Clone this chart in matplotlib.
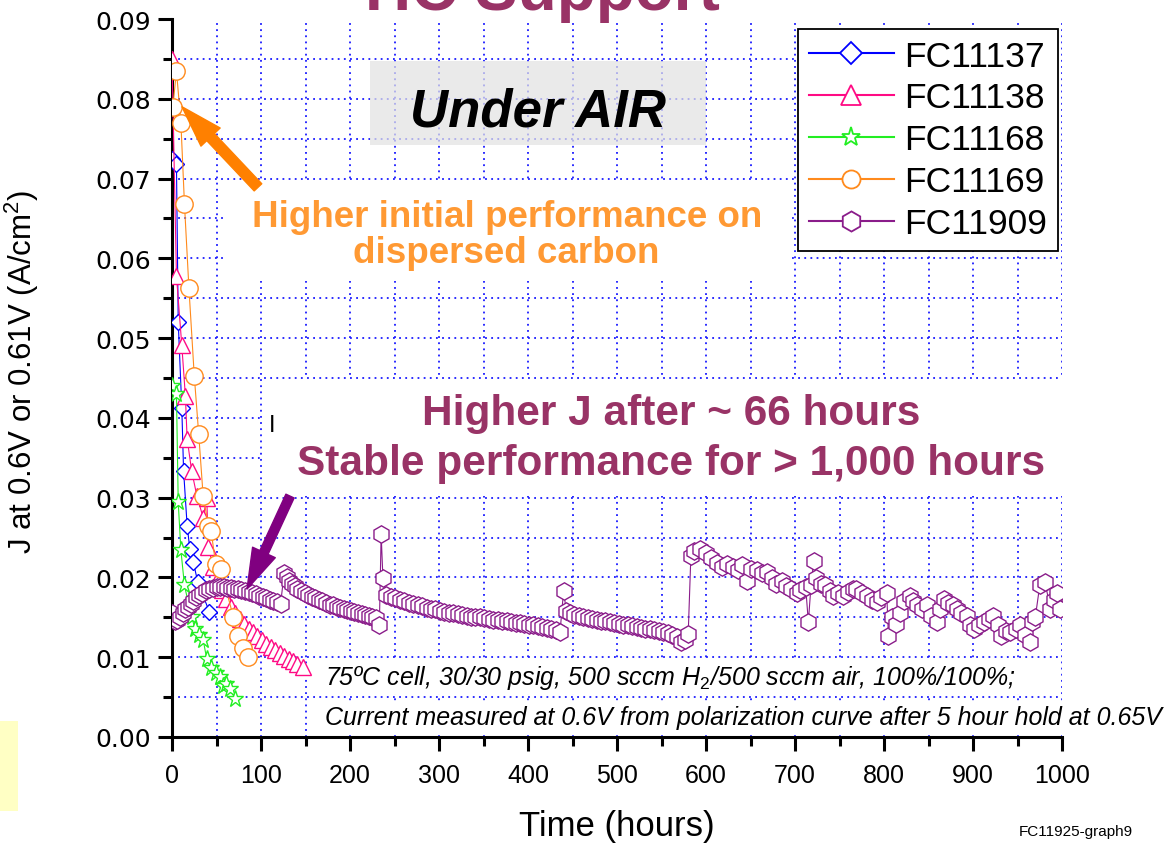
import matplotlib
matplotlib.use("Agg")
import matplotlib.pyplot as plt
from matplotlib.patches import Rectangle
from matplotlib.lines import Line2D
from matplotlib.ticker import MultipleLocator

NARROW = ["Liberation Sans Narrow", "Liberation Sans", "DejaVu Sans"]
SANS = ["Liberation Sans", "DejaVu Sans"]

plt.rcParams["font.family"] = SANS
plt.rcParams["mathtext.fontset"] = "custom"
plt.rcParams["mathtext.rm"] = "Liberation Sans"
plt.rcParams["mathtext.it"] = "Liberation Sans:italic"

# ---------------- data: current density J (A/cm2) vs time (hours) ----------------
fc11137_hours = [0.5, 5, 7, 11, 13, 17, 20, 24, 29, 42]
fc11137_j = [0.0725, 0.0718, 0.0520, 0.0413, 0.0334, 0.0265, 0.0236, 0.0219, 0.0194, 0.0157]

fc11138_hours = [0, 5, 11, 15, 17, 22, 28, 35, 39, 41, 46, 51, 56, 61, 66, 71, 76, 81,
                 86, 91, 96, 101, 106, 111, 116, 121, 126, 131, 136, 141, 147]
fc11138_j = [0.0850, 0.0578, 0.0491, 0.0428, 0.0374, 0.0334, 0.0302, 0.0275, 0.0300,
             0.0238, 0.0213, 0.0197, 0.0184, 0.0173, 0.0163, 0.0155, 0.0148, 0.0142,
             0.0136, 0.0131, 0.0126, 0.0122, 0.0117, 0.0113, 0.0109, 0.0105, 0.0101,
             0.0098, 0.0095, 0.0092, 0.0088]

fc11168_hours = [0, 5, 7, 10, 14, 22, 26, 30, 35, 39, 44, 49, 54, 57, 61, 65, 71]
fc11168_j = [0.0440, 0.0430, 0.0294, 0.0234, 0.0190, 0.0150, 0.0136, 0.0128, 0.0122,
             0.0098, 0.0086, 0.0080, 0.0075, 0.0064, 0.0066, 0.0060, 0.0048]

fc11169_hours = [1, 5, 10, 14, 19, 25, 30, 35, 41, 44, 49, 55, 69, 74, 80, 85]
fc11169_j = [0.0790, 0.0835, 0.0770, 0.0668, 0.0563, 0.0453, 0.0380, 0.0302, 0.0265,
             0.0258, 0.0217, 0.0210, 0.0150, 0.0126, 0.0111, 0.0100]

fc11909_hours = [
    0, 3, 6, 9, 12, 15, 18, 21, 24, 27, 30, 34, 38, 42, 46, 50, 54, 58, 62, 66,
    70, 74, 78, 82, 86, 90, 94, 98, 102, 106, 110, 114, 118, 122,
    126, 129, 132, 135, 138, 141, 145, 149, 153, 157, 161, 165, 169, 173, 177, 181,
    185, 189, 193, 197, 201, 205, 209, 213, 217, 221, 225, 229, 233,
    235, 237,
    241, 246, 251, 256, 261, 266, 271, 276, 281, 286, 291, 296, 301, 306, 311, 316,
    321, 326, 331, 336, 341, 346, 351, 356, 361, 366, 371, 376, 381, 386, 391, 396,
    401, 406, 411, 416, 421, 426, 431, 436,
    440, 443,
    447, 452, 457, 462, 467, 472, 477, 482, 487, 492, 497, 502, 507, 512, 517, 522,
    527, 532, 537, 542, 547, 552, 557, 562, 567, 572, 576, 580,
    583, 587, 593, 600, 606, 612, 618, 624, 630, 636, 641, 646, 651, 657, 663, 668,
    674, 679, 685, 690, 696, 702, 706, 712, 715, 718, 721, 724, 729, 734, 739, 743,
    748, 754, 760, 765, 769, 775, 781, 787, 792, 797, 803, 805, 809, 814, 818, 823,
    829, 833, 837, 843, 848, 853, 859, 863, 867, 872, 877, 882, 887, 893, 897, 901,
    907, 912, 918, 923, 928, 932, 937, 942, 948, 953, 958, 964, 966, 970, 975, 981,
    987, 991, 994, 998,
]
fc11909_j = [
    0.0156, 0.0145, 0.0147, 0.0151, 0.0156, 0.0160, 0.0163, 0.0167, 0.0171, 0.0175,
    0.0178, 0.0181, 0.0184, 0.0186, 0.0187, 0.0188, 0.0188, 0.0188, 0.0187, 0.0187,
    0.0186, 0.0185, 0.0184, 0.0183, 0.0182, 0.0180, 0.0179, 0.0177, 0.0176, 0.0174,
    0.0172, 0.0171, 0.0169, 0.0167,
    0.0205, 0.0200, 0.0196, 0.0192, 0.0189, 0.0186, 0.0183, 0.0180, 0.0178, 0.0176,
    0.0174, 0.0172, 0.0170, 0.0168, 0.0166, 0.0165, 0.0163, 0.0162, 0.0160, 0.0159,
    0.0158, 0.0157, 0.0155, 0.0154, 0.0153, 0.0152, 0.0151, 0.0149, 0.0141,
    0.0254, 0.0199,
    0.0178, 0.0176, 0.0174, 0.0172, 0.0170, 0.0168, 0.0167, 0.0165, 0.0164, 0.0162,
    0.0161, 0.0160, 0.0158, 0.0157, 0.0156, 0.0155, 0.0154, 0.0153, 0.0152, 0.0151,
    0.0150, 0.0150, 0.0149, 0.0148, 0.0147, 0.0147, 0.0146, 0.0145, 0.0144, 0.0143,
    0.0143, 0.0142, 0.0141, 0.0140, 0.0139, 0.0138, 0.0137, 0.0136, 0.0134, 0.0132,
    0.0183, 0.0158,
    0.0155, 0.0153, 0.0152, 0.0150, 0.0149, 0.0148, 0.0147, 0.0146, 0.0145, 0.0144,
    0.0143, 0.0142, 0.0141, 0.0140, 0.0139, 0.0138, 0.0137, 0.0136, 0.0135, 0.0134,
    0.0133, 0.0132, 0.0130, 0.0128, 0.0125, 0.0119, 0.0122, 0.0129,
    0.0227, 0.0233, 0.0236, 0.0231, 0.0225, 0.0218, 0.0213, 0.0217, 0.0213, 0.0209,
    0.0215, 0.0195, 0.0210, 0.0209, 0.0205, 0.0207, 0.0199, 0.0192, 0.0196, 0.0189,
    0.0186, 0.0181, 0.0184, 0.0188, 0.0144, 0.0190, 0.0221, 0.0199, 0.0192, 0.0190,
    0.0183, 0.0177, 0.0180, 0.0177, 0.0182, 0.0185, 0.0186, 0.0180, 0.0177, 0.0172,
    0.0169, 0.0176, 0.0181, 0.0127, 0.0150, 0.0142, 0.0156, 0.0170, 0.0177, 0.0170,
    0.0165, 0.0161, 0.0165, 0.0152, 0.0144, 0.0160, 0.0173, 0.0168, 0.0165, 0.0160,
    0.0156, 0.0152, 0.0140, 0.0135, 0.0141, 0.0144, 0.0148, 0.0152, 0.0140, 0.0127,
    0.0133, 0.0131, 0.0136, 0.0140, 0.0128, 0.0119, 0.0144, 0.0150, 0.0190, 0.0194,
    0.0160, 0.0172, 0.0181, 0.0160,
]

series_labels = ["FC11137", "FC11138", "FC11168", "FC11169", "FC11909"]
x_ticks = [0, 100, 200, 300, 400, 500, 600, 700, 800, 900, 1000]
y_ticks = [0.00, 0.01, 0.02, 0.03, 0.04, 0.05, 0.06, 0.07, 0.08, 0.09]

# ---------------- styling ----------------
styles = [
    dict(color="#0000ff", marker="D", ms=8.0, legend_ms=11.5),
    dict(color="#ff0a84", marker="^", ms=12.0, legend_ms=14.5),
    dict(color="#22ee22", marker="*", ms=12.5, legend_ms=14.0),
    dict(color="#ff8a1c", marker="o", ms=12.5, legend_ms=13.0),
    dict(color="#8a1c8a", marker="h", ms=12.5, legend_ms=14.5),
]
data = [
    (fc11137_hours, fc11137_j),
    (fc11138_hours, fc11138_j),
    (fc11168_hours, fc11168_j),
    (fc11169_hours, fc11169_j),
    (fc11909_hours, fc11909_j),
]

W, H = 1170, 845
fig = plt.figure(figsize=(W / 100, H / 100), dpi=100)
fig.patch.set_facecolor("white")
ax = fig.add_axes([172 / W, 107 / H, 890 / W, 718 / H])
ax.set_xlim(0, 1000)
ax.set_ylim(0, 0.09)

# axes frame: only left and bottom spines
for side in ("top", "right"):
    ax.spines[side].set_visible(False)
for side in ("left", "bottom"):
    ax.spines[side].set_linewidth(2.2)
    ax.spines[side].set_color("black")

ax.set_xticks(x_ticks)
ax.set_yticks(y_ticks)
ax.xaxis.set_minor_locator(MultipleLocator(50))
ax.yaxis.set_minor_locator(MultipleLocator(0.005))
ax.set_xticklabels([str(t) for t in x_ticks], fontfamily=NARROW, fontsize=18)
ax.set_yticklabels([f"{t:.2f}" for t in y_ticks], fontfamily=["DejaVu Sans"], fontsize=18)
ax.tick_params(which="major", direction="out", length=10, width=2.2, color="black")
ax.tick_params(which="minor", direction="out", length=6.5, width=2.2, color="black")
ax.tick_params(axis="x", which="major", pad=9)
ax.tick_params(axis="y", which="major", pad=5)

# dotted blue grid behind everything
ax.set_axisbelow(True)
ax.grid(which="both", color="#1a1aff", linestyle=(0, (1, 2.4)), linewidth=1.3)
ax.yaxis.get_major_ticks()[-1].gridline.set_visible(False)

ax.set_xlabel("Time (hours)", fontfamily=SANS, fontsize=25)
ax.xaxis.set_label_coords(0.5, -0.1)
ax.set_ylabel("J at 0.6V or 0.61V (A/cm$^2$)", fontfamily=NARROW, fontsize=22.5)
ax.yaxis.set_label_coords(-0.147, 0.51)

# white panels behind the callouts and the grey panel behind the condition label
ax.add_patch(Rectangle((60, 0.0572), 634, 0.0124, facecolor="white", edgecolor="none", zorder=1))
ax.add_patch(Rectangle((101, 0.0302), 899, 0.0147, facecolor="white", edgecolor="none", zorder=1))
ax.add_patch(Rectangle((222.5, 0.0742), 377.5, 0.0105, facecolor="#e2e2e2", alpha=0.72,
                       edgecolor="none", zorder=1))

# data series
for (hrs, jv), lab, st in zip(data, series_labels, styles):
    ax.plot(hrs, jv, color=st["color"], lw=0.8, marker=st["marker"], ms=st["ms"],
            mfc="white", mec=st["color"], mew=1.0, label=lab, zorder=3, clip_on=True)

# legend
handles = [Line2D([], [], color=st["color"], lw=1.5, marker=st["marker"], ms=st["legend_ms"],
                  mfc="white", mec=st["color"], mew=1.3) for st in styles]
leg = ax.legend(handles, series_labels, loc="upper right",
                bbox_to_anchor=(1058 / W, 1 - 30 / H), bbox_transform=fig.transFigure,
                prop={"family": SANS, "size": 25.5}, frameon=True, fancybox=False,
                framealpha=1, edgecolor="black", borderpad=0.3, labelspacing=0.25,
                handlelength=2.4, handletextpad=0.3, borderaxespad=0)
leg.get_frame().set_linewidth(1.3)
leg.set_zorder(6)

# callout texts
ax.text(411, 0.0784, "Under AIR", fontsize=38, fontweight="bold", fontstyle="italic",
        ha="center", va="center", color="black", zorder=4)
ax.text(376, 0.0652, "Higher initial performance on", fontsize=26.5, fontweight="bold",
        color="#ff9933", ha="center", va="center", zorder=4)
ax.text(376, 0.0607, "dispersed carbon", fontsize=26.5, fontweight="bold",
        color="#ff9933", ha="center", va="center", zorder=4)
ax.text(561, 0.0406, "Higher J after ~ 66 hours", fontsize=30.5, fontweight="bold",
        color="#993366", ha="center", va="center", zorder=4)
ax.text(561, 0.0343, "Stable performance for > 1,000 hours", fontsize=30.5, fontweight="bold",
        color="#993366", ha="center", va="center", zorder=4)

box = dict(facecolor="white", edgecolor="none", pad=2)
ax.text(172, 0.0075, "75ºC cell, 30/30 psig, 500 sccm H$_2$/500 sccm air, 100%/100%;",
        fontsize=18, fontstyle="italic", ha="left", va="center", bbox=box, zorder=4)
ax.text(172, 0.0025, "Current measured at 0.6V from polarization curve after 5 hour hold at 0.65V",
        fontsize=18, fontstyle="italic", ha="left", va="center", bbox=box, zorder=4)

# arrows
ax.annotate("", xy=(11.2, 0.0790), xytext=(96.6, 0.0689),
            arrowprops=dict(arrowstyle="simple,head_width=1.9,head_length=3.0,tail_width=0.75",
                            color="#ff8000", shrinkA=0, shrinkB=0, mutation_scale=10),
            zorder=4)
ax.annotate("", xy=(84.3, 0.01855), xytext=(132.6, 0.0302),
            arrowprops=dict(arrowstyle="simple,head_width=1.8,head_length=2.9,tail_width=0.65",
                            color="#800080", shrinkA=0, shrinkB=0, mutation_scale=10),
            zorder=4)

# figure-level decorations
fig.text(542 / W, 1 - 10 / H, "HC Support", fontsize=46, fontweight="bold",
         color="#993366", ha="center", va="baseline")
fig.text(272 / W, 1 - 426 / H, "I", fontfamily=NARROW, fontsize=17, ha="center",
         va="center", color="black")
fig.text(1076 / W, 1 - 832 / H, "FC11925-graph9", fontfamily=NARROW, fontsize=11,
         ha="center", va="center", color="black")
fig.patches.append(Rectangle((0, 1 - 812 / H), 18 / W, 90 / H, transform=fig.transFigure,
                             facecolor="#ffffc4", edgecolor="none"))

fig.savefig("out.png", dpi=100, facecolor="white")
